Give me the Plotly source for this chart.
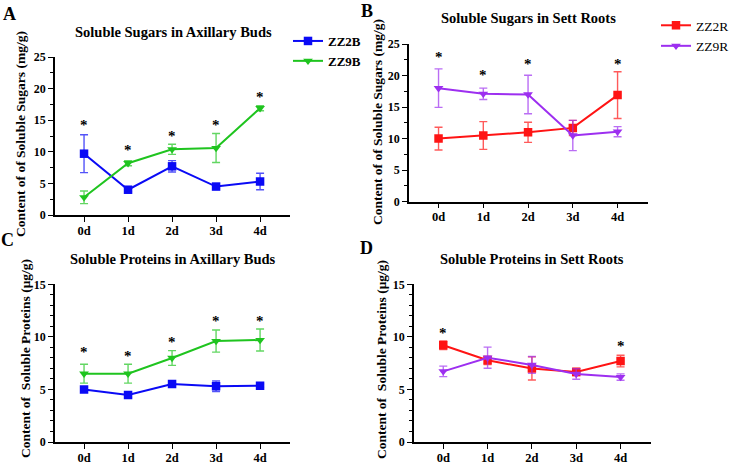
import plotly.graph_objects as go

days = ["0d", "1d", "2d", "3d", "4d"]

# Panel A: soluble sugars in axillary buds (mg/g)
zz2b_sugar = [9.7, 4.0, 7.7, 4.5, 5.3]
zz2b_sugar_err = [3.0, 0.3, 0.9, 0.3, 1.3]
zz9b_sugar = [2.8, 8.2, 10.4, 10.6, 16.9]
zz9b_sugar_err = [1.0, 0.4, 0.8, 2.3, 0.4]
a_star_y = [14.7, 10.7, 13.05, 14.7, 19.1]
a_star_x = ["0d", "1d", "2d", "3d", "4d"]

# Panel B: soluble sugars in sett roots (mg/g)
zz2r_sugar = [10.0, 10.5, 11.0, 11.7, 16.9]
zz2r_sugar_err = [1.8, 2.2, 1.6, 1.2, 3.7]
zz9r_sugar = [18.0, 17.1, 17.0, 10.5, 11.1]
zz9r_sugar_err = [3.05, 0.9, 3.05, 2.4, 0.8]
b_star_y = [23.4, 20.5, 22.3, 22.3]
b_star_x = ["0d", "1d", "2d", "4d"]

# Panel C: soluble proteins in axillary buds (ug/g)
zz2b_prot = [5.0, 4.47, 5.52, 5.3, 5.36]
zz2b_prot_err = [0.2, 0.25, 0.15, 0.5, 0.15]
zz9b_prot = [6.5, 6.5, 7.99, 9.6, 9.7]
zz9b_prot_err = [0.9, 0.9, 0.7, 1.05, 1.05]
c_star_y = [8.85, 8.44, 9.77, 11.77, 11.77]
c_star_x = ["0d", "1d", "2d", "3d", "4d"]

# Panel D: soluble proteins in sett roots (ug/g)
zz2r_prot = [9.2, 7.77, 7.0, 6.66, 7.7]
zz2r_prot_err = [0.4, 0.4, 1.1, 0.35, 0.55]
zz9r_prot = [6.72, 8.02, 7.33, 6.47, 6.18]
zz9r_prot_err = [0.5, 1.0, 0.8, 0.5, 0.3]
d_star_y = [10.7, 9.39]
d_star_x = ["0d", "4d"]

BLUE = (10, 10, 245)
GREEN = (31, 196, 31)
RED = (255, 20, 20)
PURPLE = (157, 47, 240)
FONT = "Liberation Serif"


def rgb(c, a=1.0):
    return f"rgba({c[0]},{c[1]},{c[2]},{a})"


fig = go.Figure()


def add_series(xa, ya, y, err, color, symbol, name, legend, showlegend):
    fig.add_trace(go.Scatter(
        x=days, y=y, xaxis=xa, yaxis=ya, name=name, mode="lines+markers",
        line=dict(color=rgb(color), width=2),
        marker=dict(symbol=symbol, size=8.5, color=rgb(color)),
        error_y=dict(type="data", array=err, visible=True, color=rgb(color, 0.7),
                     thickness=1.4, width=4),
        legend=legend, showlegend=showlegend,
    ))


add_series("x", "y", zz2b_sugar, zz2b_sugar_err, BLUE, "square", "ZZ2B", "legend", True)
add_series("x", "y", zz9b_sugar, zz9b_sugar_err, GREEN, "triangle-down", "ZZ9B", "legend", True)
add_series("x2", "y2", zz2r_sugar, zz2r_sugar_err, RED, "square", "ZZ2R", "legend2", True)
add_series("x2", "y2", zz9r_sugar, zz9r_sugar_err, PURPLE, "triangle-down", "ZZ9R", "legend2", True)
add_series("x3", "y3", zz2b_prot, zz2b_prot_err, BLUE, "square", "ZZ2B", "legend", False)
add_series("x3", "y3", zz9b_prot, zz9b_prot_err, GREEN, "triangle-down", "ZZ9B", "legend", False)
add_series("x4", "y4", zz2r_prot, zz2r_prot_err, RED, "square", "ZZ2R", "legend2", False)
add_series("x4", "y4", zz9r_prot, zz9r_prot_err, PURPLE, "triangle-down", "ZZ9R", "legend2", False)

W, H = 729, 465


def px(x):
    return x / W


def py(y):
    return 1 - y / H


domains = {
    "": ((55, 290), (57, 215), 25, 2.5),
    "2": ((409, 648), (44, 201.7), 25, 2.5),
    "3": ((55, 290), (284.3, 442), 15, 1),
    "4": ((414, 650.7), (284.3, 442), 15, 1),
}

layout = {}
for k, ((x0, x1), (y0, y1), ymax, minor) in domains.items():
    layout["xaxis" + k] = dict(
        domain=[px(x0), px(x1)], anchor="y" + k, type="category",
        range=[-0.66, 4.68], showline=True, linecolor="black", linewidth=1.5,
        ticks="outside", ticklen=5, tickwidth=1.3, tickcolor="black",
        showgrid=False, zeroline=False, automargin=False, ticklabelstandoff=-2,
        tickfont=dict(family=FONT, size=12.5, color="black", weight="bold"),
    )
    layout["yaxis" + k] = dict(
        domain=[py(y1), py(y0)], anchor="x" + k, range=[0, ymax],
        dtick=5, tick0=0, showline=True, linecolor="black", linewidth=1.5,
        ticks="outside", ticklen=5, tickwidth=1.3, tickcolor="black",
        showgrid=False, zeroline=False, automargin=False,
        minor=dict(dtick=minor, ticks="outside", ticklen=3, tickwidth=1, tickcolor="black"),
        tickfont=dict(family=FONT, size=12, color="black", weight="bold"),
    )

annotations = []


def txt(x, y, text, size, bold=True, angle=0, xanchor="center"):
    annotations.append(dict(
        x=px(x), y=py(y), xref="paper", yref="paper", text=text, showarrow=False,
        textangle=angle, xanchor=xanchor, yanchor="middle",
        font=dict(family=FONT, size=size, color="black", weight="bold" if bold else "normal"),
    ))


# Panel letters
txt(9, 14, "A", 18)
txt(367, 11, "B", 18)
txt(8, 240, "C", 18)
txt(366, 248, "D", 18)
# Panel titles
txt(173, 32, "Soluble Sugars in Axillary Buds", 14.5)
txt(528, 18, "Soluble Sugars in Sett Roots", 14.5)
txt(173, 259, "Soluble Proteins in Axillary Buds", 14.5)
txt(532, 259, "Soluble Proteins in Sett Roots", 14.5)
# Y-axis titles
txt(21, 134, "Content of of Soluble Sugars (mg/g)", 13.5, angle=-90)
txt(377, 122, "Content of of Soluble Sugars (mg/g)", 13.5, angle=-90)
txt(25, 359, "Content of  Soluble Proteins (μg/g)", 13.5, angle=-90)
txt(381, 359, "Content of  Soluble Proteins (μg/g)", 13.5, angle=-90)


def stars(xa, ya, xs, ys):
    for x, y in zip(xs, ys):
        annotations.append(dict(
            x=x, y=y, xref=xa, yref=ya, text="*", showarrow=False,
            yanchor="middle", yshift=-3,
            font=dict(family=FONT, size=15, color="black", weight="bold"),
        ))


stars("x", "y", a_star_x, a_star_y)
stars("x2", "y2", b_star_x, b_star_y)
stars("x3", "y3", c_star_x, c_star_y)
stars("x4", "y4", d_star_x, d_star_y)

fig.update_layout(
    width=W, height=H, margin=dict(l=0, r=0, t=0, b=0, autoexpand=False),
    paper_bgcolor="white", plot_bgcolor="white",
    annotations=annotations,
    legend=dict(x=px(288), y=py(26), xanchor="left", yanchor="top",
                font=dict(family=FONT, size=13, color="black", weight="bold"),
                itemwidth=30, tracegroupgap=0, bgcolor="rgba(0,0,0,0)"),
    legend2=dict(x=px(656), y=py(10), xanchor="left", yanchor="top",
                 font=dict(family=FONT, size=13.5, color="black"),
                 itemwidth=30, tracegroupgap=0, bgcolor="rgba(0,0,0,0)"),
    **layout,
)

fig.write_html("out.html")
